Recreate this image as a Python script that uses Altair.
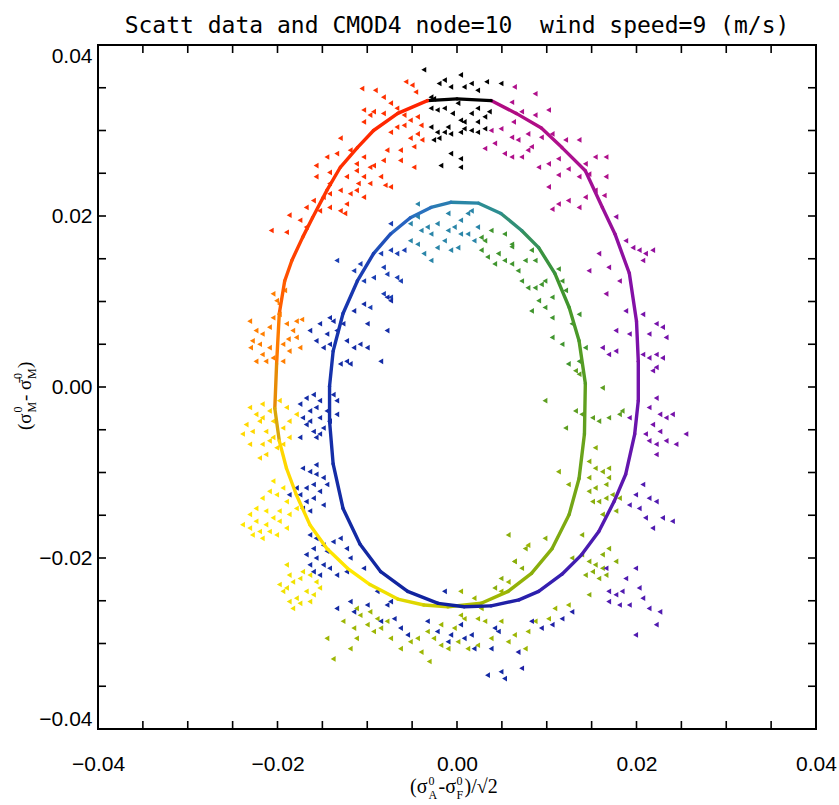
import altair as alt
import pandas as pd

# ---------------- texts ----------------
TITLE = "Scatt data and CMOD4 node=10\u00a0 wind speed=9 (m/s)"
AXIS_LABEL_VALUES = [-0.04, -0.02, 0.0, 0.02, 0.04]
MINOR_TICKS = [-0.035, -0.03, -0.025, -0.02, -0.015, -0.01, -0.005, 0.0,
               0.005, 0.01, 0.015, 0.02, 0.025, 0.03, 0.035]

# ---------------- CMOD4 model curve (closed, ordered by wind direction) ----------------
CURVE_X = [0.0000, -0.0033, -0.0066, -0.0093, -0.0111, -0.0130, -0.0145, -0.0161, -0.0172, -0.0184,
           -0.0192, -0.0198, -0.0201, -0.0203, -0.0198, -0.0190, -0.0179, -0.0164, -0.0145, -0.0122,
           -0.0097, -0.0066, -0.0037, -0.0010, 0.0027, 0.0057, 0.0083, 0.0106, 0.0125, 0.0136,
           0.0142, 0.0143, 0.0136, 0.0125, 0.0109, 0.0091, 0.0072, 0.0049, 0.0024, -0.0007,
           -0.0029, -0.0052, -0.0074, -0.0093, -0.0111, -0.0127, -0.0138, -0.0142, -0.0142, -0.0138,
           -0.0127, -0.0108, -0.0085, -0.0055, -0.0021, 0.0008, 0.0038, 0.0069, 0.0091, 0.0117,
           0.0139, 0.0158, 0.0175, 0.0188, 0.0198, 0.0202, 0.0202, 0.0200, 0.0192, 0.0176,
           0.0162, 0.0143, 0.0117, 0.0094, 0.0066, 0.0038, 0.0000]
CURVE_Y = [0.0337, 0.0335, 0.0320, 0.0300, 0.0280, 0.0257, 0.0230, 0.0198, 0.0175, 0.0148,
           0.0124, 0.0086, 0.0027, -0.0025, -0.0063, -0.0095, -0.0126, -0.0161, -0.0189, -0.0212,
           -0.0231, -0.0248, -0.0255, -0.0257, -0.0253, -0.0239, -0.0218, -0.0189, -0.0149, -0.0107,
           -0.0055, 0.0004, 0.0054, 0.0093, 0.0133, 0.0163, 0.0183, 0.0203, 0.0215, 0.0216,
           0.0210, 0.0198, 0.0179, 0.0156, 0.0124, 0.0086, 0.0042, 0.0001, -0.0040, -0.0090,
           -0.0142, -0.0184, -0.0216, -0.0239, -0.0253, -0.0257, -0.0256, -0.0249, -0.0239, -0.0219,
           -0.0196, -0.0169, -0.0134, -0.0102, -0.0055, -0.0016, 0.0030, 0.0077, 0.0133, 0.0179,
           0.0210, 0.0253, 0.0280, 0.0303, 0.0320, 0.0335, 0.0337]
CURVE_DIR = [0, 4, 9, 14, 19, 24, 28, 33, 38, 42,
             47, 52, 57, 61, 66, 71, 75, 80, 85, 90,
             94, 99, 104, 108, 113, 118, 123, 127, 132, 137,
             141, 146, 151, 156, 160, 165, 170, 174, 179, 184,
             188, 193, 198, 203, 207, 212, 217, 221, 226, 231,
             236, 240, 245, 250, 254, 259, 264, 268, 273, 278,
             283, 287, 292, 297, 301, 306, 311, 316, 320, 325,
             330, 334, 339, 344, 349, 353, 360]

# ---------------- scatterometer data, grouped by wind direction ----------------
PTS_BLACK = [(-0.0037, 0.0371), (-0.0029, 0.0339), (-0.0026, 0.0337), (-0.0020, 0.0355), (-0.0014, 0.0359),
             (-0.0007, 0.0351), (0.0004, 0.0365), (0.0008, 0.0351), (0.0016, 0.0355), (0.0033, 0.0357),
             (0.0049, 0.0355), (0.0023, 0.0347), (-0.0029, 0.0326), (-0.0022, 0.0324), (-0.0014, 0.0326),
             (-0.0005, 0.0320), (0.0004, 0.0312), (0.0008, 0.0310), (0.0016, 0.0320), (0.0023, 0.0326),
             (0.0031, 0.0316), (0.0036, 0.0322), (0.0023, 0.0310), (-0.0029, 0.0304), (-0.0022, 0.0298),
             (-0.0014, 0.0298), (-0.0007, 0.0296), (0.0004, 0.0298), (0.0008, 0.0302), (0.0016, 0.0300),
             (0.0023, 0.0298), (0.0031, 0.0302), (-0.0026, 0.0289), (-0.0020, 0.0291), (-0.0007, 0.0273),
             (0.0004, 0.0267), (0.0004, 0.0257), (-0.0018, 0.0259), (-0.0010, 0.0304), (0.0001, 0.0332)]
PTS_RED = [(-0.0106, 0.0349), (-0.0091, 0.0347), (-0.0082, 0.0339), (-0.0057, 0.0357), (-0.0050, 0.0353),
           (-0.0046, 0.0345), (-0.0074, 0.0332), (-0.0082, 0.0320), (-0.0093, 0.0322), (-0.0104, 0.0324),
           (-0.0104, 0.0310), (-0.0097, 0.0318), (-0.0067, 0.0326), (-0.0059, 0.0318), (-0.0052, 0.0312),
           (-0.0044, 0.0316), (-0.0040, 0.0306), (-0.0044, 0.0296), (-0.0052, 0.0291), (-0.0059, 0.0306),
           (-0.0067, 0.0304), (-0.0074, 0.0298), (-0.0078, 0.0277), (-0.0063, 0.0277), (-0.0048, 0.0281),
           (-0.0039, 0.0289), (-0.0082, 0.0265), (-0.0093, 0.0259), (-0.0104, 0.0269), (-0.0112, 0.0261),
           (-0.0119, 0.0277), (-0.0130, 0.0291), (-0.0134, 0.0273), (-0.0145, 0.0269), (-0.0157, 0.0259),
           (-0.0142, 0.0251), (-0.0123, 0.0246), (-0.0112, 0.0253), (-0.0104, 0.0246), (-0.0097, 0.0238),
           (-0.0085, 0.0246), (-0.0074, 0.0234), (-0.0063, 0.0265), (-0.0048, 0.0257), (-0.0130, 0.0230),
           (-0.0142, 0.0238), (-0.0149, 0.0222), (-0.0160, 0.0218), (-0.0168, 0.0210), (-0.0153, 0.0206),
           (-0.0142, 0.0210), (-0.0123, 0.0214), (-0.0119, 0.0226), (-0.0104, 0.0222), (-0.0112, 0.0230),
           (-0.0130, 0.0206), (-0.0125, 0.0203), (-0.0168, 0.0187), (-0.0187, 0.0201), (-0.0190, 0.0181),
           (-0.0207, 0.0183), (-0.0175, 0.0195), (-0.0097, 0.0257), (-0.0110, 0.0238), (-0.0157, 0.0246),
           (-0.0142, 0.0226), (-0.0080, 0.0236)]
PTS_ORANGE = [(-0.0231, 0.0077), (-0.0224, 0.0066), (-0.0228, 0.0054), (-0.0217, 0.0062), (-0.0209, 0.0070),
              (-0.0205, 0.0081), (-0.0198, 0.0085), (-0.0190, 0.0074), (-0.0183, 0.0066), (-0.0179, 0.0058),
              (-0.0175, 0.0046), (-0.0187, 0.0042), (-0.0194, 0.0050), (-0.0209, 0.0046), (-0.0217, 0.0038),
              (-0.0224, 0.0030), (-0.0213, 0.0030), (-0.0205, 0.0034), (-0.0194, 0.0030), (-0.0179, 0.0077),
              (-0.0173, 0.0079), (-0.0220, 0.0050), (-0.0188, 0.0056), (-0.0230, 0.0046), (-0.0201, 0.0101),
              (-0.0198, 0.0097), (-0.0192, 0.0113), (-0.0205, 0.0109)]
PTS_GOLD = [(-0.0231, -0.0024), (-0.0224, -0.0032), (-0.0235, -0.0044), (-0.0217, -0.0020), (-0.0209, -0.0028),
            (-0.0220, -0.0040), (-0.0213, -0.0052), (-0.0205, -0.0059), (-0.0217, -0.0067), (-0.0201, -0.0071),
            (-0.0194, -0.0067), (-0.0187, -0.0059), (-0.0194, -0.0048), (-0.0228, -0.0052), (-0.0239, -0.0055),
            (-0.0205, -0.0040), (-0.0213, -0.0079), (-0.0220, -0.0083), (-0.0198, -0.0016), (-0.0190, -0.0024),
            (-0.0231, -0.0067), (-0.0209, -0.0063), (-0.0217, -0.0036), (-0.0187, -0.0040), (-0.0179, -0.0032)]
PTS_YELLOW = [(-0.0239, -0.0161), (-0.0231, -0.0149), (-0.0224, -0.0142), (-0.0217, -0.0130), (-0.0209, -0.0122),
              (-0.0201, -0.0126), (-0.0194, -0.0118), (-0.0190, -0.0134), (-0.0198, -0.0145), (-0.0205, -0.0153),
              (-0.0213, -0.0161), (-0.0220, -0.0169), (-0.0228, -0.0173), (-0.0217, -0.0177), (-0.0209, -0.0169),
              (-0.0198, -0.0157), (-0.0187, -0.0149), (-0.0179, -0.0142), (-0.0231, -0.0165), (-0.0205, -0.0110),
              (-0.0213, -0.0145), (-0.0224, -0.0157), (-0.0190, -0.0165), (-0.0201, -0.0173)]
PTS_YELLOW_LOW = [(-0.0198, -0.0231), (-0.0190, -0.0235), (-0.0183, -0.0228), (-0.0175, -0.0224), (-0.0168, -0.0239),
                  (-0.0160, -0.0243), (-0.0153, -0.0235), (-0.0179, -0.0247), (-0.0187, -0.0251), (-0.0194, -0.0239),
                  (-0.0157, -0.0228), (-0.0172, -0.0216), (-0.0187, -0.0220), (-0.0183, -0.0259), (-0.0175, -0.0253),
                  (-0.0164, -0.0251), (-0.0190, -0.0208), (-0.0164, -0.0220)]
PTS_NAVY = [(-0.0164, 0.0066), (-0.0153, 0.0074), (-0.0145, 0.0062), (-0.0142, 0.0050), (-0.0149, 0.0046),
            (-0.0157, 0.0054), (-0.0134, 0.0066), (-0.0127, 0.0074), (-0.0123, 0.0054), (-0.0115, 0.0046),
            (-0.0108, 0.0050), (-0.0100, 0.0046), (-0.0123, 0.0030), (-0.0130, 0.0027), (-0.0119, 0.0027),
            (-0.0142, 0.0081), (-0.0138, 0.0077), (-0.0115, 0.0089), (-0.0104, 0.0097), (-0.0078, 0.0105),
            (-0.0074, 0.0101), (-0.0085, 0.0030), (-0.0100, 0.0074), (-0.0078, 0.0066),
            (-0.0175, -0.0020), (-0.0168, -0.0013), (-0.0160, -0.0009), (-0.0153, -0.0016), (-0.0164, -0.0028),
            (-0.0172, -0.0036), (-0.0168, -0.0044), (-0.0160, -0.0052), (-0.0157, -0.0059), (-0.0149, -0.0048),
            (-0.0153, -0.0036), (-0.0145, -0.0028), (-0.0138, -0.0009), (-0.0134, -0.0016), (-0.0142, -0.0040),
            (-0.0134, -0.0032), (-0.0157, -0.0024), (-0.0175, -0.0059), (-0.0164, -0.0040), (-0.0153, -0.0055),
            (-0.0172, -0.0095), (-0.0164, -0.0099), (-0.0157, -0.0102), (-0.0149, -0.0106), (-0.0160, -0.0114),
            (-0.0168, -0.0118), (-0.0175, -0.0126), (-0.0168, -0.0134), (-0.0160, -0.0130), (-0.0153, -0.0122),
            (-0.0149, -0.0138), (-0.0164, -0.0145), (-0.0179, -0.0118), (-0.0187, -0.0126), (-0.0157, -0.0091),
            (-0.0145, -0.0114), (-0.0172, -0.0142),
            (-0.0164, -0.0173), (-0.0157, -0.0177), (-0.0149, -0.0185), (-0.0160, -0.0189), (-0.0168, -0.0196),
            (-0.0157, -0.0200), (-0.0149, -0.0208), (-0.0164, -0.0208), (-0.0153, -0.0220), (-0.0142, -0.0212),
            (-0.0138, -0.0181), (-0.0130, -0.0177), (-0.0145, -0.0192), (-0.0123, -0.0189), (-0.0119, -0.0200),
            (-0.0134, -0.0220), (-0.0160, -0.0216)]
PTS_BLUE = [(-0.0074, 0.0191), (-0.0085, 0.0156), (-0.0074, 0.0160), (-0.0067, 0.0156), (-0.0059, 0.0160),
            (-0.0082, 0.0140), (-0.0093, 0.0128), (-0.0078, 0.0132), (-0.0067, 0.0128), (-0.0063, 0.0124),
            (-0.0104, 0.0124), (-0.0082, 0.0109), (-0.0074, 0.0105), (-0.0097, 0.0093), (-0.0108, 0.0144),
            (-0.0134, 0.0148), (-0.0115, 0.0136)]
PTS_TEAL = [(-0.0052, 0.0191), (-0.0044, 0.0199), (-0.0040, 0.0183), (-0.0033, 0.0187), (-0.0029, 0.0179),
            (-0.0022, 0.0191), (-0.0010, 0.0183), (-0.0003, 0.0187), (0.0004, 0.0179), (0.0012, 0.0203),
            (0.0016, 0.0206), (0.0023, 0.0187), (-0.0044, 0.0167), (-0.0037, 0.0156), (-0.0022, 0.0163),
            (-0.0014, 0.0171), (-0.0007, 0.0160), (0.0001, 0.0163), (-0.0029, 0.0148), (-0.0052, 0.0171),
            (-0.0010, 0.0203), (0.0004, 0.0195), (0.0019, 0.0171), (0.0012, 0.0179), (-0.0044, 0.0214)]
PTS_GREEN_TOP = [(0.0027, 0.0175), (0.0038, 0.0183), (0.0053, 0.0179), (0.0061, 0.0167), (0.0027, 0.0160),
                 (0.0034, 0.0152), (0.0046, 0.0156), (0.0053, 0.0148), (0.0061, 0.0144), (0.0068, 0.0136),
                 (0.0076, 0.0148), (0.0083, 0.0160), (0.0087, 0.0148), (0.0072, 0.0124), (0.0079, 0.0116),
                 (0.0087, 0.0116), (0.0094, 0.0120), (0.0098, 0.0124), (0.0113, 0.0138), (0.0117, 0.0124),
                 (0.0091, 0.0101), (0.0098, 0.0093), (0.0106, 0.0105), (0.0121, 0.0113), (0.0106, 0.0081),
                 (0.0083, 0.0089), (0.0128, 0.0074), (0.0136, 0.0085), (0.0106, 0.0058), (0.0117, 0.0050),
                 (0.0124, 0.0027), (0.0136, 0.0030), (0.0143, 0.0046), (0.0042, 0.0144), (0.0061, 0.0164),
                 (0.0031, 0.0171)]
PTS_GREEN_MID = [(0.0132, 0.0019), (0.0136, 0.0015), (0.0162, -0.0001), (0.0132, -0.0028), (0.0139, -0.0032),
                 (0.0151, -0.0036), (0.0158, -0.0040), (0.0169, -0.0036), (0.0181, -0.0032), (0.0184, -0.0028),
                 (0.0121, -0.0048), (0.0098, -0.0016)]
PTS_OLIVE_RIGHT = [(0.0147, -0.0087), (0.0154, -0.0095), (0.0162, -0.0099), (0.0169, -0.0106), (0.0166, -0.0114),
                   (0.0154, -0.0118), (0.0147, -0.0122), (0.0151, -0.0134), (0.0158, -0.0134), (0.0166, -0.0130),
                   (0.0173, -0.0126), (0.0181, -0.0130), (0.0177, -0.0145), (0.0162, -0.0149), (0.0169, -0.0095),
                   (0.0147, -0.0106), (0.0139, -0.0196), (0.0147, -0.0204), (0.0154, -0.0208), (0.0162, -0.0212),
                   (0.0166, -0.0220), (0.0158, -0.0224), (0.0151, -0.0216), (0.0162, -0.0196), (0.0169, -0.0189),
                   (0.0177, -0.0204), (0.0143, -0.0220), (0.0128, -0.0200), (0.0147, -0.0243), (0.0098, -0.0177),
                   (0.0076, -0.0189), (0.0064, -0.0204), (0.0057, -0.0173), (0.0049, -0.0224), (0.0042, -0.0235),
                   (0.0072, -0.0212), (0.0113, -0.0099), (0.0124, -0.0114), (0.0139, -0.0173), (0.0154, -0.0071)]
PTS_OLIVE_BOTTOM = [(-0.0127, -0.0274), (-0.0115, -0.0282), (-0.0108, -0.0267), (-0.0100, -0.0278), (-0.0093, -0.0286),
                    (-0.0085, -0.0282), (-0.0078, -0.0274), (-0.0112, -0.0294), (-0.0119, -0.0306), (-0.0063, -0.0306),
                    (-0.0052, -0.0298), (-0.0040, -0.0310), (-0.0044, -0.0294), (-0.0033, -0.0286), (-0.0026, -0.0294),
                    (-0.0018, -0.0302), (-0.0010, -0.0306), (-0.0003, -0.0282), (0.0001, -0.0298), (0.0008, -0.0271),
                    (0.0012, -0.0306), (0.0023, -0.0302), (0.0031, -0.0274), (0.0038, -0.0294), (0.0027, -0.0259),
                    (0.0049, -0.0274), (0.0057, -0.0298), (0.0064, -0.0290), (0.0076, -0.0306), (0.0079, -0.0286),
                    (0.0087, -0.0274), (0.0102, -0.0271), (0.0109, -0.0259), (0.0124, -0.0255), (-0.0145, -0.0294),
                    (-0.0138, -0.0318), (-0.0031, -0.0321), (0.0004, -0.0267), (0.0023, -0.0271), (-0.0018, -0.0278),
                    (-0.0112, -0.0259), (-0.0097, -0.0263), (-0.0089, -0.0271), (-0.0074, -0.0294), (0.0049, -0.0239),
                    (0.0004, -0.0239), (0.0019, -0.0247), (0.0057, -0.0228), (0.0064, -0.0204), (0.0079, -0.0185)]
PTS_BLUE_BOTTOM = [(-0.0134, -0.0259), (-0.0119, -0.0251), (-0.0115, -0.0263), (-0.0100, -0.0255), (-0.0078, -0.0255),
                   (-0.0070, -0.0271), (-0.0063, -0.0282), (-0.0055, -0.0290), (-0.0033, -0.0274), (-0.0022, -0.0286),
                   (-0.0010, -0.0298), (-0.0007, -0.0290), (0.0004, -0.0278), (0.0008, -0.0294), (0.0016, -0.0290),
                   (0.0042, -0.0282), (0.0046, -0.0286), (0.0038, -0.0306), (0.0019, -0.0306), (0.0034, -0.0337),
                   (0.0049, -0.0333), (0.0053, -0.0341), (-0.0123, -0.0216), (-0.0104, -0.0212), (-0.0089, -0.0239),
                   (-0.0074, -0.0251), (-0.0085, -0.0274), (-0.0014, -0.0239)]
PTS_INDIGO_BOTTOM = [(0.0072, -0.0329), (0.0068, -0.0310), (0.0083, -0.0274), (0.0094, -0.0282), (0.0106, -0.0278),
                     (0.0117, -0.0271), (0.0128, -0.0263)]
PTS_PURPLE_LOW = [(0.0207, -0.0114), (0.0199, -0.0126), (0.0192, -0.0138), (0.0203, -0.0142), (0.0214, -0.0130),
                  (0.0222, -0.0134), (0.0210, -0.0153), (0.0218, -0.0165), (0.0229, -0.0153), (0.0240, -0.0157),
                  (0.0199, -0.0212), (0.0188, -0.0224), (0.0184, -0.0239), (0.0177, -0.0243), (0.0169, -0.0251),
                  (0.0181, -0.0255), (0.0192, -0.0255), (0.0203, -0.0235), (0.0207, -0.0247), (0.0214, -0.0259),
                  (0.0226, -0.0263), (0.0169, -0.0239), (0.0166, -0.0212), (0.0199, -0.0290), (0.0222, -0.0278)]
PTS_PURPLE = [(0.0188, 0.0089), (0.0207, 0.0085), (0.0222, 0.0074), (0.0229, 0.0070), (0.0233, 0.0058),
              (0.0214, 0.0062), (0.0207, 0.0038), (0.0214, 0.0034), (0.0222, 0.0038), (0.0229, 0.0034),
              (0.0222, 0.0023), (0.0218, 0.0019), (0.0192, 0.0062), (0.0177, 0.0066), (0.0162, 0.0046),
              (0.0169, 0.0038), (0.0177, 0.0042), (0.0222, -0.0013), (0.0214, -0.0024), (0.0226, -0.0032),
              (0.0233, -0.0036), (0.0240, -0.0032), (0.0218, -0.0044), (0.0226, -0.0052), (0.0210, -0.0055),
              (0.0214, -0.0063), (0.0222, -0.0067), (0.0233, -0.0063), (0.0244, -0.0067), (0.0255, -0.0055),
              (0.0222, -0.0079), (0.0192, -0.0036)]
PTS_PLUM = [(0.0177, 0.0199), (0.0188, 0.0171), (0.0196, 0.0163), (0.0203, 0.0160), (0.0210, 0.0156),
            (0.0218, 0.0160), (0.0207, 0.0148), (0.0158, 0.0156), (0.0169, 0.0140), (0.0147, 0.0136),
            (0.0166, 0.0109), (0.0181, 0.0124)]
PTS_MAGENTA = [(0.0064, 0.0351), (0.0087, 0.0343), (0.0061, 0.0333), (0.0102, 0.0324), (0.0072, 0.0322),
               (0.0087, 0.0318), (0.0063, 0.0310), (0.0038, 0.0300), (0.0049, 0.0302), (0.0061, 0.0292),
               (0.0068, 0.0289), (0.0079, 0.0296), (0.0094, 0.0292), (0.0106, 0.0296), (0.0121, 0.0289),
               (0.0136, 0.0289), (0.0031, 0.0279), (0.0042, 0.0285), (0.0053, 0.0273), (0.0072, 0.0269),
               (0.0079, 0.0277), (0.0083, 0.0281), (0.0061, 0.0269), (0.0091, 0.0257), (0.0102, 0.0261),
               (0.0113, 0.0267), (0.0124, 0.0255), (0.0143, 0.0261), (0.0154, 0.0269), (0.0166, 0.0269),
               (0.0113, 0.0248), (0.0102, 0.0234), (0.0106, 0.0208), (0.0113, 0.0214), (0.0124, 0.0218),
               (0.0136, 0.0210), (0.0136, 0.0246), (0.0147, 0.0249), (0.0166, 0.0246), (0.0143, 0.0222),
               (0.0154, 0.0230), (0.0164, 0.0224)]

# wind direction (deg) of each group
GROUPS = [(PTS_BLACK, 0), (PTS_RED, 25), (PTS_ORANGE, 55), (PTS_GOLD, 70), (PTS_YELLOW, 90),
          (PTS_YELLOW_LOW, 96), (PTS_OLIVE_BOTTOM, 116), (PTS_OLIVE_RIGHT, 125), (PTS_GREEN_MID, 145),
          (PTS_GREEN_TOP, 158), (PTS_TEAL, 182), (PTS_BLUE, 205), (PTS_NAVY, 232), (PTS_BLUE_BOTTOM, 240),
          (PTS_INDIGO_BOTTOM, 266), (PTS_PURPLE_LOW, 288), (PTS_PURPLE, 310), (PTS_PLUM, 325),
          (PTS_MAGENTA, 340)]

# colour table for wind direction
DIR_STOPS = [0, 4, 5, 38, 50, 57, 62, 66, 92, 104, 113, 137, 160, 179, 193, 207, 259, 273, 292, 316, 339, 353, 355, 360]
DIR_COLORS = ["#000000", "#000000", "#ff2200", "#ff3a00", "#ff6000", "#ff8a00", "#c48c10", "#ffd400",
              "#ffe800", "#d6d200", "#a4b800", "#6ea418", "#3c9430", "#2a8ca0", "#2a6cc4", "#1838b0",
              "#10209c", "#3020b0", "#5818b0", "#8010a8", "#b0108c", "#b00a80", "#000000", "#000000"]

# ---------------- tables ----------------
rows = []
for pts, d in GROUPS:
    for (px, py) in pts:
        rows.append({"x": px, "y": py, "dir": d})
points_df = pd.DataFrame(rows)

seg_df = pd.DataFrame({
    "x": CURVE_X[:-1], "y": CURVE_Y[:-1],
    "x2": CURVE_X[1:], "y2": CURVE_Y[1:],
    "dir": [(a + b) / 2 for a, b in zip(CURVE_DIR[:-1], CURVE_DIR[1:])],
})
ticks_df = pd.DataFrame({"t": MINOR_TICKS})
one = pd.DataFrame({"a": [0]})

# ---------------- layout ----------------
W, H = 718, 684
xs = alt.Scale(domain=[-0.04, 0.04], nice=False, zero=False)
ys = alt.Scale(domain=[-0.04, 0.04], nice=False, zero=False)
cs = alt.Scale(domain=DIR_STOPS, range=DIR_COLORS, interpolate="rgb")
XAX = alt.Axis(values=AXIS_LABEL_VALUES, format=".2f", title=None, grid=False, domain=False,
               ticks=False, labelPadding=24, labelFlush=False, labelFont="Liberation Sans",
               labelFontSize=21, labelColor="black")
YAX = alt.Axis(values=AXIS_LABEL_VALUES, format=".2f", title=None, grid=False, domain=False,
               ticks=False, labelPadding=6, labelFlush=True, labelFont="Liberation Sans",
               labelFontSize=21, labelColor="black")

pts_layer = alt.Chart(points_df).mark_point(shape="triangle-left", filled=True, size=32, opacity=1).encode(
    x=alt.X("x:Q", scale=xs, axis=XAX),
    y=alt.Y("y:Q", scale=ys, axis=YAX),
    color=alt.Color("dir:Q", scale=cs, legend=None),
)

curve_layer = alt.Chart(seg_df).mark_rule(strokeWidth=3.4, strokeCap="round").encode(
    x=alt.X("x:Q", scale=xs, axis=XAX),
    y=alt.Y("y:Q", scale=ys, axis=YAX),
    x2="x2:Q", y2="y2:Q",
    color=alt.Color("dir:Q", scale=cs, legend=None),
)

TL = 8
tick_bottom = alt.Chart(ticks_df).mark_rule(color="black", strokeWidth=1.6).encode(
    x=alt.X("t:Q", scale=xs, axis=XAX), y=alt.value(H), y2=alt.value(H - TL))
tick_top = alt.Chart(ticks_df).mark_rule(color="black", strokeWidth=1.6).encode(
    x=alt.X("t:Q", scale=xs, axis=XAX), y=alt.value(0), y2=alt.value(TL))
tick_left = alt.Chart(ticks_df).mark_rule(color="black", strokeWidth=1.6).encode(
    y=alt.Y("t:Q", scale=ys, axis=YAX), x=alt.value(0), x2=alt.value(TL))
tick_right = alt.Chart(ticks_df).mark_rule(color="black", strokeWidth=1.6).encode(
    y=alt.Y("t:Q", scale=ys, axis=YAX), x=alt.value(W), x2=alt.value(W - TL))


def piece(txt, x, y, size, font="Liberation Serif", angle=0, align="left"):
    return alt.Chart(one).mark_text(text=txt, font=font, fontSize=size, align=align,
                                    baseline="alphabetic", angle=angle, color="black").encode(
        x=alt.value(x), y=alt.value(y))


title_layer = piece(TITLE, W / 2, -12, 23, font="DejaVu Sans Mono", align="center")

# x-axis title  (σ⁰_A-σ⁰_F)/√2
xt = [
    piece("(σ", 312, 748, 20),
    piece("0", 330.5, 740, 12),
    piece("A", 330.5, 754, 12),
    piece("-σ", 340.5, 748, 20),
    piece("0", 358.5, 740, 12),
    piece("F", 358.5, 754, 12),
    piece(")/√2", 366.5, 748, 20),
]
# y-axis title  (σ⁰_M - σ̄⁰_M), rotated
yt = [
    piece("(σ", -67, 385, 19, angle=270),
    piece("0", -76, 367.5, 12, angle=270),
    piece("M", -62, 367.5, 12, angle=270),
    piece("- σ\u0304", -67, 356, 19, angle=270),
    piece("0", -76, 334, 12, angle=270),
    piece("M", -62, 334, 12, angle=270),
    piece(")", -67, 323, 19, angle=270),
]

chart = alt.layer(
    pts_layer, curve_layer, tick_bottom, tick_top, tick_left, tick_right, title_layer, *xt, *yt
).properties(
    width=W, height=H,
    autosize=alt.AutoSizeParams(type="none"),
    padding={"left": 98, "top": 45, "right": 23, "bottom": 76},
    background="white",
).configure_view(stroke="black", strokeWidth=2)

chart.save("out.html", embed_options={"renderer": "svg", "actions": False})
